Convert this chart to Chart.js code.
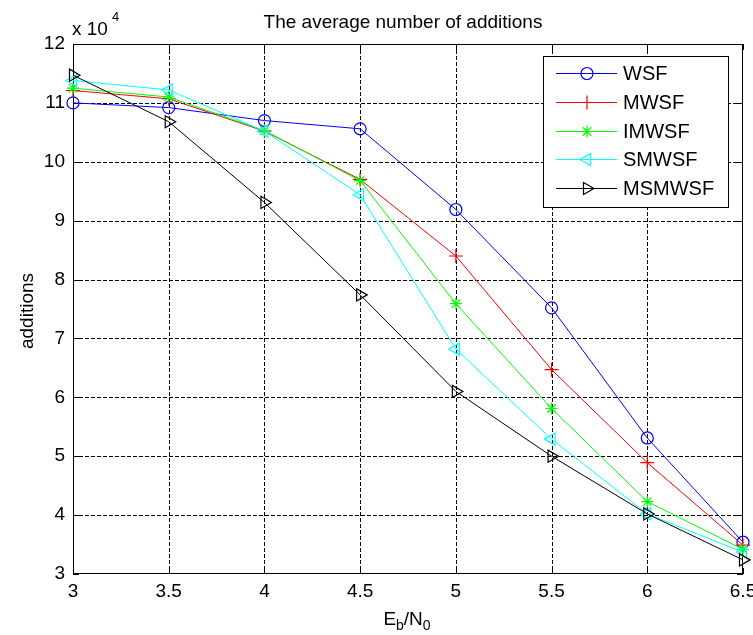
<!DOCTYPE html>
<html>
<head>
<meta charset="utf-8">
<script src="https://cdn.jsdelivr.net/npm/chart.js@4.4.0/dist/chart.umd.min.js"></script>
<style>
  html, body { margin: 0; padding: 0; background: #fff; }
  #wrap { width: 753px; height: 635px; }
</style>
</head>
<body>
<div id="wrap"><canvas id="chart" width="753" height="635"></canvas></div>
<script>
// --- Data (additions, in units of 10^4) ---
const ebn0 = [3, 3.5, 4, 4.5, 5, 5.5, 6, 6.5];
const wsf    = [11.00, 10.92, 10.70, 10.56, 9.19, 7.52, 5.31, 3.54];
const mwsf   = [11.21, 11.07, 10.52, 9.70, 8.40, 6.47, 4.89, 3.49];
const imwsf  = [11.25, 11.10, 10.53, 9.68, 7.59, 5.81, 4.23, 3.42];
const smwsf  = [11.38, 11.22, 10.52, 9.44, 6.82, 5.29, 4.02, 3.37];
const msmwsf = [11.47, 10.68, 9.31, 7.74, 6.10, 5.00, 4.02, 3.24];
const seriesNames = ['WSF', 'MWSF', 'IMWSF', 'SMWSF', 'MSMWSF'];
const yTicks = [3, 4, 5, 6, 7, 8, 9, 10, 11, 12];
const xTicks = [3, 3.5, 4, 4.5, 5, 5.5, 6, 6.5];

const FONT = "'Liberation Sans', Arial, sans-serif";

function toPoints(ys) {
    return ebn0.map((x, i) => ({ x: x, y: ys[i] }));
}

function makeSet(label, ys, color, style, rot, radius, order) {
    return {
        label: label,
        data: toPoints(ys),
        borderColor: color,
        backgroundColor: 'rgba(0,0,0,0)',
        borderWidth: 1,
        pointStyle: style,
        pointRotation: rot,
        pointRadius: radius,
        pointBorderColor: color,
        pointBorderWidth: 1.2,
        pointBackgroundColor: 'rgba(0,0,0,0)',
        tension: 0,
        clip: false,
        order: order
    };
}

const datasets = [
    makeSet('WSF', wsf, '#0000ff', 'circle', 0, 6, 5),
    makeSet('MWSF', mwsf, '#ff0000', 'cross', 0, 7, 4),
    makeSet('IMWSF', imwsf, '#00ff00', 'star', 0, 6, 3),
    makeSet('SMWSF', smwsf, '#00ffff', 'triangle', -90, 7, 2),
    makeSet('MSMWSF', msmwsf, '#000000', 'triangle', 90, 7, 1)
];

// --- Decorations: dashed grid, box, inward ticks, titles, legend ---
const decor = {
    id: 'decor',
    beforeDatasetsDraw(chart) {
        const ctx = chart.ctx;
        const a = chart.chartArea;
        const xs = chart.scales.x, ys = chart.scales.y;
        ctx.save();
        ctx.strokeStyle = '#000';
        ctx.lineWidth = 1;

        // dashed grid
        ctx.setLineDash([4, 2]);
        ctx.beginPath();
        xTicks.slice(1, -1).forEach(v => {
            const px = Math.round(xs.getPixelForValue(v)) + 0.5;
            ctx.moveTo(px, a.top); ctx.lineTo(px, a.bottom);
        });
        yTicks.slice(1, -1).forEach(v => {
            const py = Math.round(ys.getPixelForValue(v)) + 0.5;
            ctx.moveTo(a.left, py); ctx.lineTo(a.right, py);
        });
        ctx.stroke();

        // box
        ctx.setLineDash([]);
        ctx.strokeRect(a.left + 0.5, a.top + 0.5, a.right - a.left - 1, a.bottom - a.top - 1);

        // inward ticks
        const t = 6;
        ctx.beginPath();
        xTicks.forEach(v => {
            const px = Math.round(xs.getPixelForValue(v)) + 0.5;
            ctx.moveTo(px, a.bottom); ctx.lineTo(px, a.bottom - t);
            ctx.moveTo(px, a.top); ctx.lineTo(px, a.top + t);
        });
        yTicks.forEach(v => {
            const py = Math.round(ys.getPixelForValue(v)) + 0.5;
            ctx.moveTo(a.left, py); ctx.lineTo(a.left + t, py);
            ctx.moveTo(a.right, py); ctx.lineTo(a.right - t, py);
        });
        ctx.stroke();
        ctx.restore();
    },
    afterDraw(chart) {
        const ctx = chart.ctx;
        ctx.save();
        ctx.fillStyle = '#000';

        // title
        ctx.font = '19px ' + FONT;
        ctx.textAlign = 'center';
        ctx.textBaseline = 'alphabetic';
        ctx.fillText('The average number of additions', 403, 28);

        // exponent label
        ctx.textAlign = 'left';
        ctx.fillText('x 10', 72, 35);
        ctx.font = '13px ' + FONT;
        ctx.fillText('4', 112, 21);

        // y axis title
        ctx.save();
        ctx.translate(33, 311);
        ctx.rotate(-Math.PI / 2);
        ctx.font = '19px ' + FONT;
        ctx.textAlign = 'center';
        ctx.fillText('additions', 0, 0);
        ctx.restore();

        // x axis title E_b/N_0
        const parts = [['E', 19, 0], ['b', 14, 5], ['/N', 19, 0], ['0', 14, 5]];
        let w = 0;
        parts.forEach(p => { ctx.font = p[1] + 'px ' + FONT; w += ctx.measureText(p[0]).width; });
        let x = 407 - w / 2;
        parts.forEach(p => {
            ctx.font = p[1] + 'px ' + FONT;
            ctx.fillText(p[0], x, 625 + p[2]);
            x += ctx.measureText(p[0]).width;
        });

        // legend
        const box = { l: 543, t: 56, r: 728, b: 207 };
        ctx.fillStyle = '#fff';
        ctx.fillRect(box.l, box.t, box.r - box.l, box.b - box.t);
        ctx.strokeStyle = '#000';
        ctx.lineWidth = 1;
        ctx.strokeRect(box.l + 0.5, box.t + 0.5, box.r - box.l, box.b - box.t);
        ctx.font = '20px ' + FONT;
        ctx.textBaseline = 'middle';
        chart.data.datasets.forEach((ds, i) => {
            const y = Math.round(73 + i * 28.8) + 0.5;
            ctx.strokeStyle = ds.borderColor;
            ctx.lineWidth = 1;
            ctx.beginPath();
            ctx.moveTo(556, y);
            ctx.lineTo(617, y);
            ctx.stroke();
            ctx.fillStyle = 'rgba(0,0,0,0)';
            ctx.lineWidth = 1.2;
            Chart.helpers.drawPoint(ctx, {
                pointStyle: ds.pointStyle,
                rotation: ds.pointRotation,
                radius: ds.pointRadius,
                borderWidth: 1.2
            }, 587, y);
            ctx.fillStyle = '#000';
            ctx.fillText(seriesNames[i], 623, y + 1);
        });
        ctx.restore();
    }
};

const ctx = document.getElementById('chart').getContext('2d');
new Chart(ctx, {
    type: 'line',
    data: { datasets: datasets },
    options: {
        responsive: false,
        animation: false,
        devicePixelRatio: 1,
        layout: { padding: { top: 44, right: 10, left: 0, bottom: 0 } },
        plugins: {
            legend: { display: false },
            title: { display: false },
            tooltip: { enabled: false }
        },
        scales: {
            x: {
                type: 'linear',
                min: 3,
                max: 6.5,
                afterBuildTicks: s => { s.ticks = xTicks.map(v => ({ value: v })); },
                afterFit: s => { s.height = 61; s.paddingLeft = 0; s.paddingRight = 0; },
                grid: { display: false, drawTicks: false, tickLength: 0 },
                border: { display: false },
                ticks: {
                    color: '#000',
                    padding: 6,
                    autoSkip: false,
                    maxRotation: 0,
                    callback: v => String(v),
                    font: { family: FONT, size: 19 }
                }
            },
            y: {
                type: 'linear',
                min: 3,
                max: 12,
                afterBuildTicks: s => { s.ticks = yTicks.map(v => ({ value: v })); },
                afterFit: s => { s.width = 73; s.paddingTop = 0; s.paddingBottom = 0; },
                grid: { display: false, drawTicks: false, tickLength: 0 },
                border: { display: false },
                ticks: {
                    color: '#000',
                    padding: 8,
                    autoSkip: false,
                    callback: v => String(v),
                    font: { family: FONT, size: 19 }
                }
            }
        }
    },
    plugins: [decor]
});
</script>
</body>
</html>
